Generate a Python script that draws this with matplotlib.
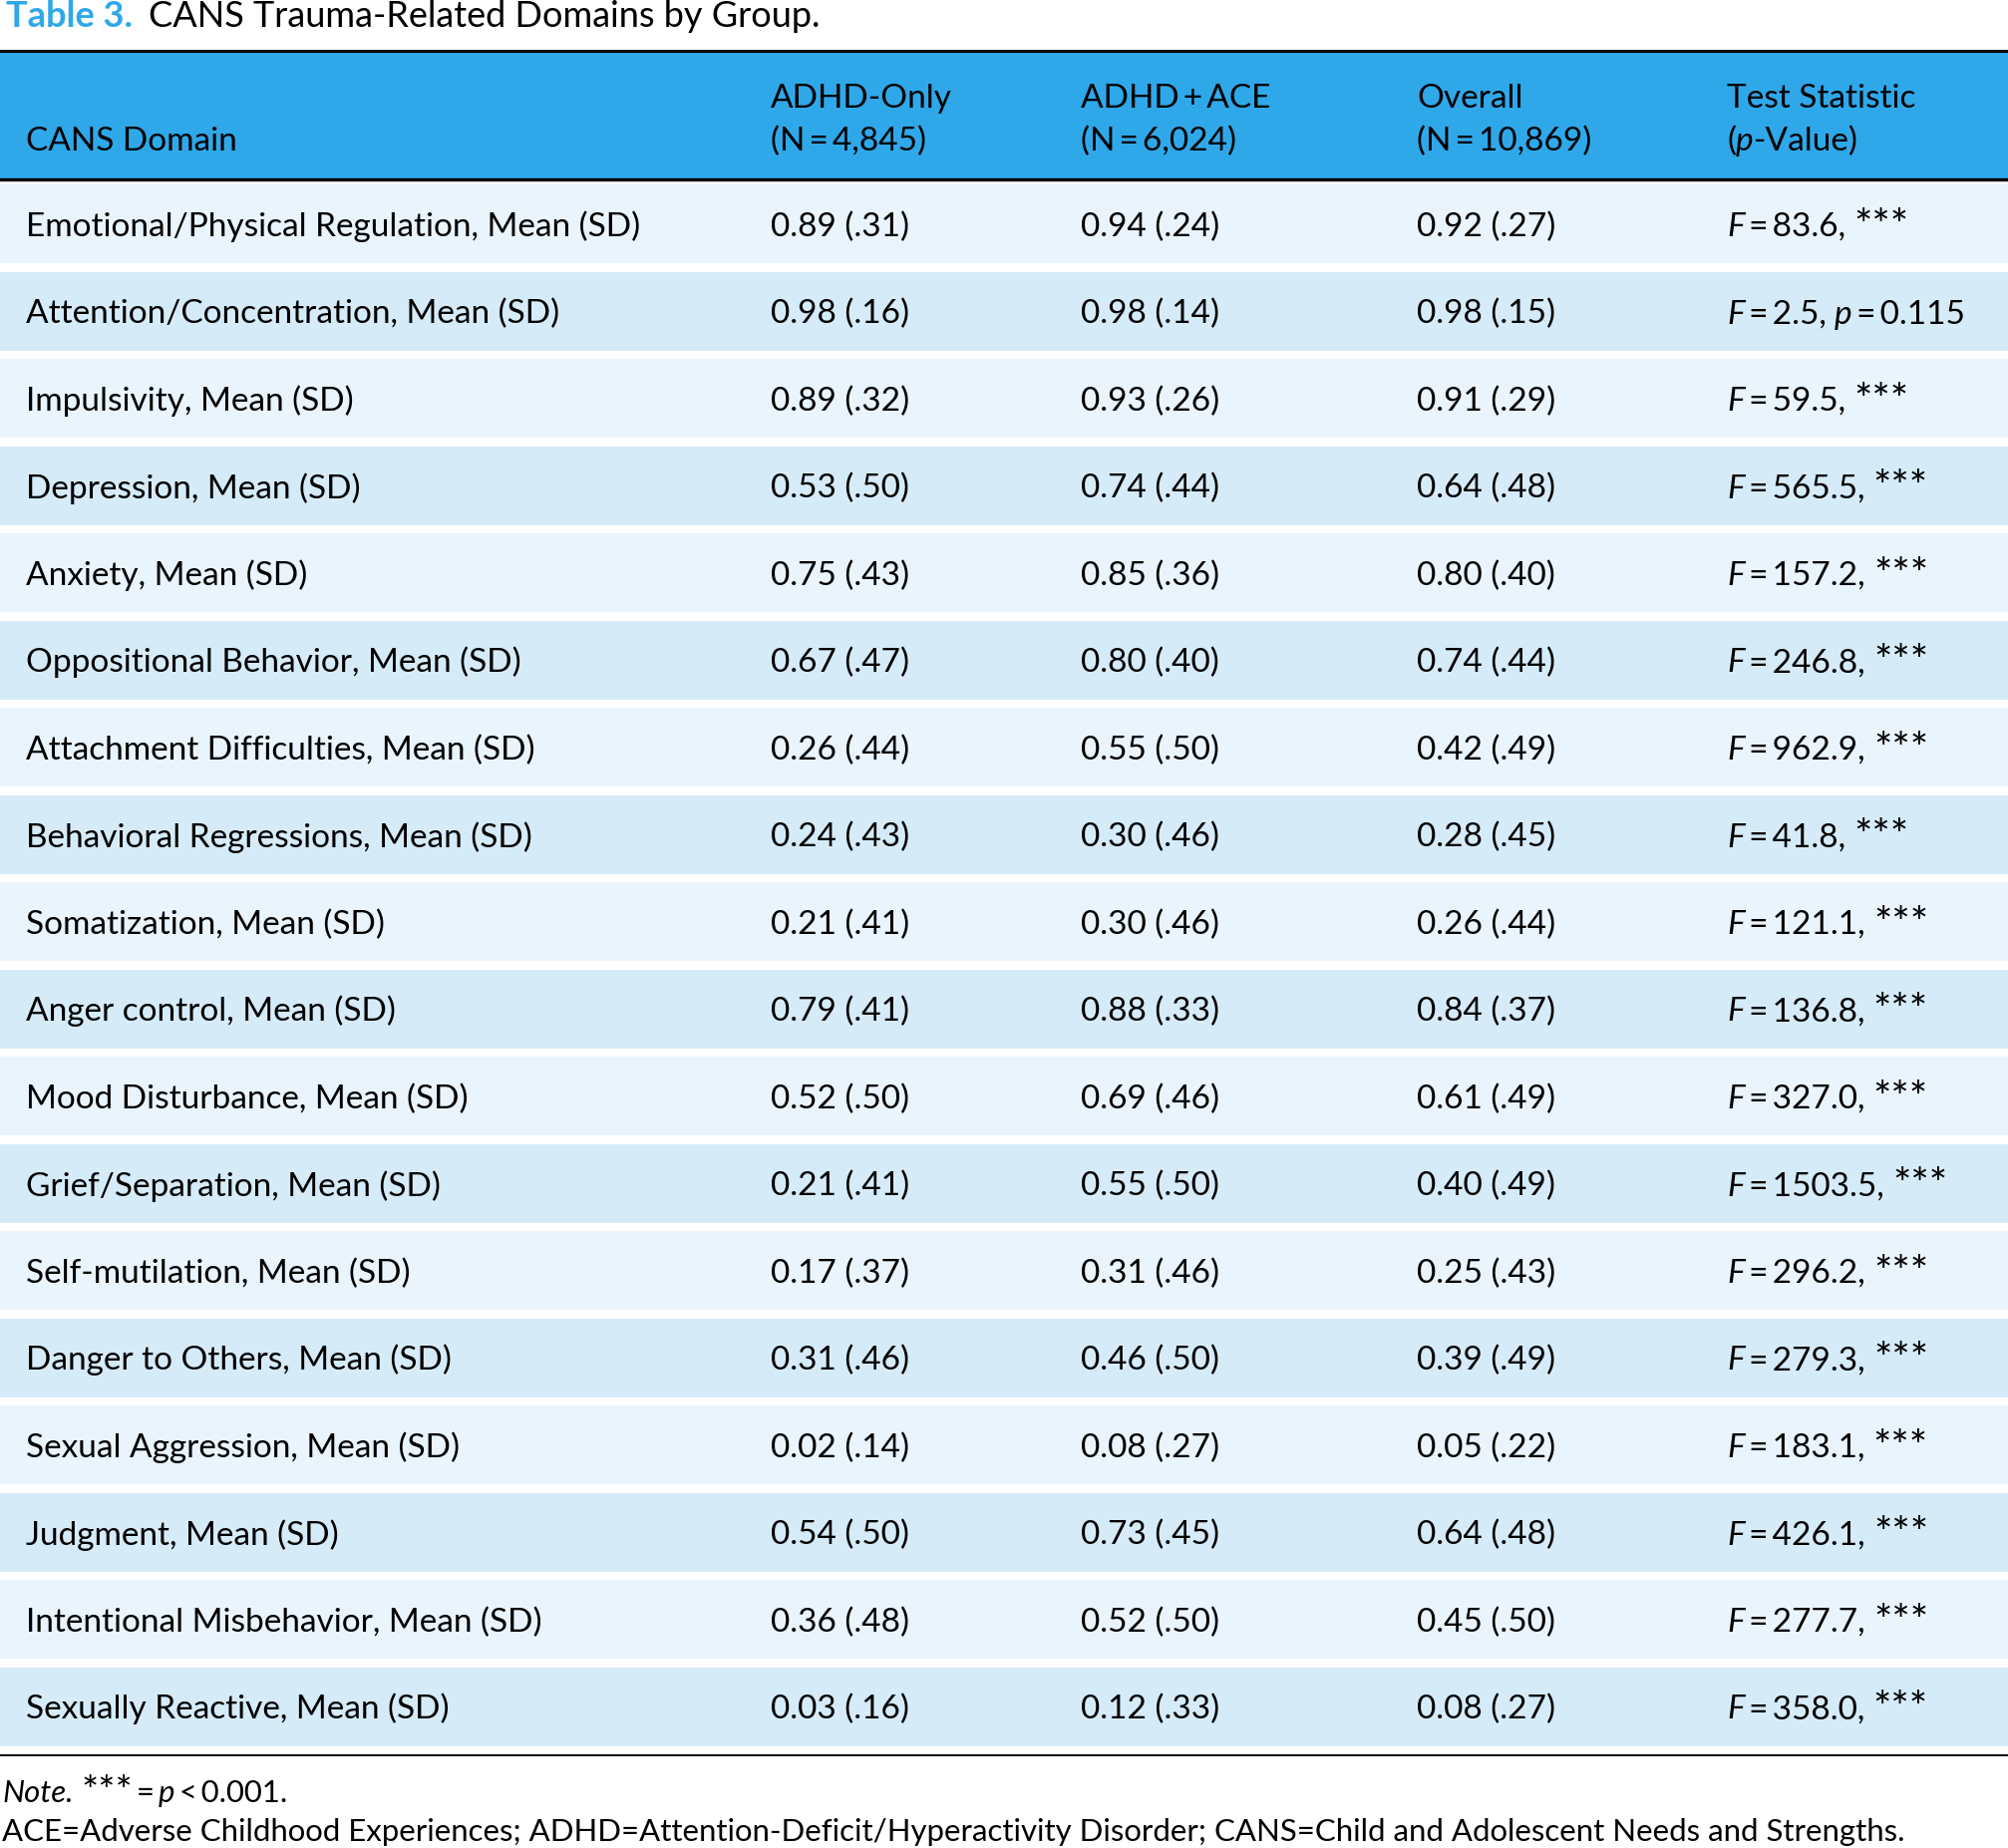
import matplotlib
matplotlib.use("Agg")
import matplotlib.pyplot as plt
from matplotlib.patches import Rectangle

plt.rcParams['font.family'] = ['Lato', 'DejaVu Sans']

# table content
domains = ["Emotional/Physical Regulation", "Attention/Concentration", "Impulsivity",
           "Depression", "Anxiety", "Oppositional Behavior", "Attachment Difficulties",
           "Behavioral Regressions", "Somatization", "Anger control", "Mood Disturbance",
           "Grief/Separation", "Self-mutilation", "Danger to Others", "Sexual Aggression",
           "Judgment", "Intentional Misbehavior", "Sexually Reactive"]
adhd_only_mean = [0.89, 0.98, 0.89, 0.53, 0.75, 0.67, 0.26, 0.24, 0.21, 0.79, 0.52, 0.21, 0.17, 0.31, 0.02, 0.54, 0.36, 0.03]
adhd_only_sd = [.31, .16, .32, .50, .43, .47, .44, .43, .41, .41, .50, .41, .37, .46, .14, .50, .48, .16]
adhd_ace_mean = [0.94, 0.98, 0.93, 0.74, 0.85, 0.80, 0.55, 0.30, 0.30, 0.88, 0.69, 0.55, 0.31, 0.46, 0.08, 0.73, 0.52, 0.12]
adhd_ace_sd = [.24, .14, .26, .44, .36, .40, .50, .46, .46, .33, .46, .50, .46, .50, .27, .45, .50, .33]
overall_mean = [0.92, 0.98, 0.91, 0.64, 0.80, 0.74, 0.42, 0.28, 0.26, 0.84, 0.61, 0.40, 0.25, 0.39, 0.05, 0.64, 0.45, 0.08]
overall_sd = [.27, .15, .29, .48, .40, .44, .49, .45, .44, .37, .49, .49, .43, .49, .22, .48, .50, .27]
f_stat = [83.6, 2.5, 59.5, 565.5, 157.2, 246.8, 962.9, 41.8, 121.1, 136.8, 327.0, 1503.5, 296.2, 279.3, 183.1, 426.1, 277.7, 358.0]
p_value = [None, "0.115", None, None, None, None, None, None, None, None, None, None, None, None, None, None, None, None]

col_heads = [("", "CANS Domain"), ("ADHD-Only", "(N\u2009=\u20094,845)"),
             ("ADHD\u2009+\u2009ACE", "(N\u2009=\u20096,024)"), ("Overall", "(N\u2009=\u200910,869)")]

W, H = 2014, 1854
BLUE = "#2FA8EA"
ROW_COLORS = ["#EAF4FD", "#D6EBF8"]
FS = 24
col_x = [26, 773, 1084, 1421, 1732]
row_top0, row_pitch, row_h = 185, 87.5, 79

fig = plt.figure(figsize=(W / 100, H / 100), dpi=100)
ax = fig.add_axes([0, 0, 1, 1])
ax.set_xlim(0, W)
ax.set_ylim(H, 0)
ax.axis("off")
renderer = fig.canvas.get_renderer()


def draw_runs(x, y, parts, size=FS):
    # parts: list of (text, style) ; style in "r", "i", "sup"
    for s, style in parts:
        kw = dict(fontsize=size, va="baseline", ha="left", color="black")
        yy = y
        if style == "i":
            kw["fontstyle"] = "italic"
        elif style == "sup":
            kw["fontsize"] = size * 1.3
            yy = y + size * 0.12
        t = ax.text(x, yy, s, **kw)
        bb = t.get_window_extent(renderer)
        x += bb.width
    return x


def fmt(v):
    return f"{v:.2f}"


def fmt_sd(v):
    return f"({v:.2f})".replace("(0.", "(.")


# title
t1 = ax.text(6, 27, "Table 3.", fontsize=26, fontweight="bold", color=BLUE, va="baseline")
bb = t1.get_window_extent(renderer)
ax.text(6 + bb.width + 16, 27, "CANS Trauma-Related Domains by Group.", fontsize=26,
        color="black", va="baseline")

# header
ax.add_patch(Rectangle((0, 51), W, 129, color=BLUE, lw=0))
ax.plot([0, W], [51, 51], color="black", lw=2.2)
ax.plot([0, W], [180, 180], color="black", lw=2.4)
for (l1, l2), x in zip(col_heads, col_x):
    if l1:
        ax.text(x, 108, l1, fontsize=FS, va="baseline")
    ax.text(x, 151, l2, fontsize=FS, va="baseline")
ax.text(col_x[4], 108, "Test Statistic", fontsize=FS, va="baseline")
draw_runs(col_x[4], 151, [("(", "r"), ("p", "i"), ("-Value)", "r")])

# rows
for i, name in enumerate(domains):
    top = row_top0 + i * row_pitch
    ax.add_patch(Rectangle((0, top), W, row_h, color=ROW_COLORS[i % 2], lw=0))
    yb = top + 52
    ax.text(col_x[0], yb, f"{name}, Mean (SD)", fontsize=FS, va="baseline")
    ax.text(col_x[1], yb, f"{fmt(adhd_only_mean[i])} {fmt_sd(adhd_only_sd[i])}", fontsize=FS, va="baseline")
    ax.text(col_x[2], yb, f"{fmt(adhd_ace_mean[i])} {fmt_sd(adhd_ace_sd[i])}", fontsize=FS, va="baseline")
    ax.text(col_x[3], yb, f"{fmt(overall_mean[i])} {fmt_sd(overall_sd[i])}", fontsize=FS, va="baseline")
    parts = [("F", "i"), (f"\u2009=\u2009{f_stat[i]:.1f}, ", "r")]
    if p_value[i] is None:
        parts.append(("***", "sup"))
    else:
        parts += [("p", "i"), (f"\u2009=\u2009{p_value[i]}", "r")]
    draw_runs(col_x[4], yb, parts)

bottom = row_top0 + len(domains) * row_pitch - (row_pitch - row_h) + 9
ax.plot([0, W], [bottom, bottom], color="black", lw=1.4)

# notes
draw_runs(2, 1808, [("Note.", "i"), (" ", "r"), ("***", "sup"), ("\u2009=\u2009", "r"),
                    ("p", "i"), ("\u2009<\u20090.001.", "r")], size=22.4)
ax.text(2, 1847, "ACE=Adverse Childhood Experiences; ADHD=Attention-Deficit/Hyperactivity Disorder; "
        "CANS=Child and Adolescent Needs and Strengths.", fontsize=22.4, va="baseline")

fig.savefig("out.png", dpi=100)
